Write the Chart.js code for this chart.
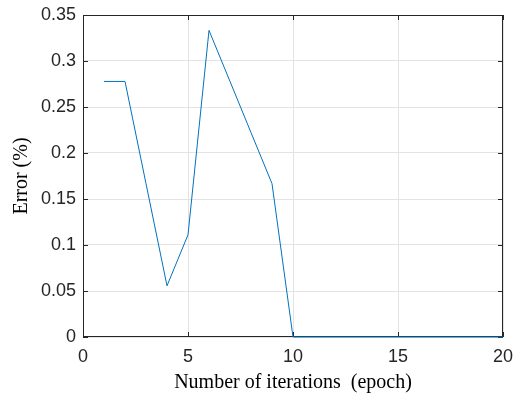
<!DOCTYPE html>
<html>
<head>
<meta charset="utf-8">
<script src="https://cdn.jsdelivr.net/npm/chart.js@4"></script>
<style>
  body { margin: 0; background: #fff; }
</style>
</head>
<body>
<canvas id="c" width="515" height="398"></canvas>
<script>
const epochs = [1, 2, 3, 4, 5, 6, 7, 8, 9, 10, 11, 12, 13, 14, 15, 16, 17, 18, 19, 20]
const errors = [0.2778, 0.2778, 0.1667, 0.0556, 0.1111, 0.3333, 0.2778, 0.2222, 0.1667, 0,
  0, 0, 0, 0, 0, 0, 0, 0, 0, 0]
const xTicks = [0, 5, 10, 15, 20]
const yTicks = [0, 0.05, 0.1, 0.15, 0.2, 0.25, 0.3, 0.35]

const lineColor = '#0072BD'
const axisColor = '#262626'

// matlab style box with inward ticks, drawn under the line
const boxPlugin = {
  id: 'box',
  beforeDatasetsDraw(chart) {
    const {ctx, chartArea: a, scales} = chart
    ctx.save()
    ctx.strokeStyle = axisColor
    ctx.lineWidth = 1
    ctx.strokeRect(a.left + 0.5, a.top + 0.5, a.right - a.left - 1, a.bottom - a.top - 1)
    ctx.beginPath()
    const len = 5
    xTicks.forEach((v) => {
      const px = Math.round(scales.x.getPixelForValue(v)) + 0.5
      ctx.moveTo(px, a.bottom); ctx.lineTo(px, a.bottom - len)
      ctx.moveTo(px, a.top); ctx.lineTo(px, a.top + len)
    })
    yTicks.forEach((v) => {
      const py = Math.round(scales.y.getPixelForValue(v)) + 0.5
      ctx.moveTo(a.left, py); ctx.lineTo(a.left + len, py)
      ctx.moveTo(a.right, py); ctx.lineTo(a.right - len, py)
    })
    ctx.stroke()
    ctx.restore()
  }
}

const config = {
  type: 'line',
  data: {
    datasets: [{
      data: epochs.map((x, i) => ({x, y: errors[i]})),
      borderColor: lineColor,
      borderWidth: 1,
      pointRadius: 0,
      tension: 0,
      fill: false,
      clip: false
    }]
  },
  options: {
    responsive: false,
    animation: false,
    layout: { padding: { top: 15, right: 12, left: 0, bottom: 0 } },
    plugins: {
      legend: { display: false },
      tooltip: { enabled: false }
    },
    scales: {
      x: {
        type: 'linear',
        min: 0,
        max: 20,
        afterBuildTicks: (s) => { s.ticks = xTicks.map((value) => ({value})) },
        afterFit: (s) => { s.height = 61; s.paddingLeft = 0; s.paddingRight = 0 },
        grid: { color: '#e3e3e3', drawTicks: false },
        border: { display: false },
        ticks: {
          color: axisColor,
          padding: 9,
          maxRotation: 0,
          font: { family: 'Liberation Sans', size: 18 }
        },
        title: {
          display: true,
          text: 'Number of iterations  (epoch)',
          color: '#000',
          padding: { top: 2, bottom: 3 },
          font: { family: 'Liberation Serif', size: 20 }
        }
      },
      y: {
        min: 0,
        max: 0.35,
        afterBuildTicks: (s) => { s.ticks = yTicks.map((value) => ({value})) },
        afterFit: (s) => { s.width = 83; s.paddingTop = 0; s.paddingBottom = 0 },
        grid: { color: '#e3e3e3', drawTicks: false },
        border: { display: false },
        ticks: {
          color: axisColor,
          padding: 7,
          font: { family: 'Liberation Sans', size: 18 },
          callback: (v) => String(+v.toFixed(2))
        },
        title: {
          display: true,
          text: 'Error (%)',
          color: '#000',
          padding: { top: 10, bottom: 0 },
          font: { family: 'Liberation Serif', size: 20 }
        }
      }
    }
  },
  plugins: [boxPlugin]
}

new Chart(document.getElementById('c'), config)
</script>
</body>
</html>
